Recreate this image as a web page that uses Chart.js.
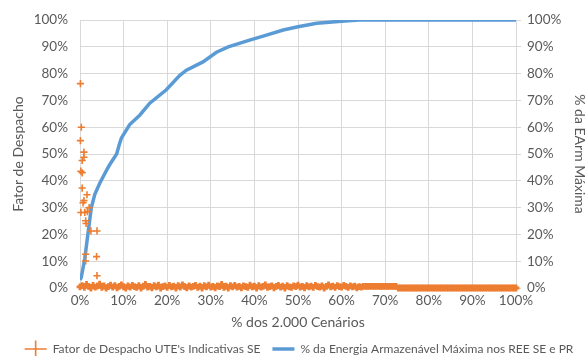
<!DOCTYPE html>
<html>
<head>
<meta charset="utf-8">
<script src="https://cdn.jsdelivr.net/npm/chart.js@4.4.1/dist/chart.umd.min.js"></script>
<style>
  html, body { margin: 0; padding: 0; background: #fff; }
  #wrap { width: 588px; height: 356px; }
</style>
</head>
<body>
<div id="wrap"><canvas id="chart" width="588" height="356"></canvas></div>
<script>
// % dos cenarios vs % da EArm maxima (curva azul)
const earmX = [0, 0.3, 1.1, 1.8, 2.2, 2.6, 3.4, 4.5, 6.1, 6.8, 8.4, 9.1, 9.5, 11.4, 13.7, 16, 19.8, 22.9, 24.4, 28.2, 31.3, 34, 38.9, 42, 46.6, 50, 54.3, 60, 64, 100];
const earmY = [3, 4, 11, 20, 25, 30, 35, 39, 44, 46, 50, 54, 56, 61, 64.5, 69, 74, 79.4, 81.3, 84.4, 88, 90, 92.5, 94, 96.3, 97.5, 98.8, 99.6, 100, 100];

// fator de despacho - pontos isolados no inicio
const outlierX = [0.1, 0.3, 0.1, 0.9, 0.9, 0.5, 0.2, 0.5, 0.5, 1.6, 0.9, 0.7, 2.1, 0.2, 1.1, 1.7, 1.3, 1.4, 2.5, 3.9, 1.3, 3.8, 1.3, 3.9];
const outlierY = [76.3, 60, 55, 50.7, 48.8, 47.6, 43.6, 43, 37.3, 34.8, 32.6, 31.8, 30, 28.2, 28.2, 28.5, 25.1, 24.1, 21.3, 21.3, 12.6, 11.7, 10.1, 4.6];

// fator de despacho - faixa junto de zero, um valor a cada 0,5% dos cenarios
const bandY = [
  0.4, 0.9, 0.2, 1.3, 0.6, 0, 1.0, 0.3, 0.7, 1.4,
  0.2, 0.8, 0, 0.5, 1.1, 0.3, 0.9, 0.1, 0.6, 1.2,
  0.4, 0, 0.8, 0.3, 1.0, 0.5, 0.2, 0.9, 0, 0.7,
  1.3, 0.3, 0.6, 0.1, 0.9, 0.4, 1.1, 0, 0.5, 0.8,
  0.2, 1.0, 0.4, 0.7, 0, 0.9, 0.3, 1.2, 0.5, 0.1,
  0.8, 0.3, 0.6, 1.0, 0.2, 0.7, 0, 0.9, 0.4, 1.1,
  0.3, 0.6, 0.1, 0.8, 0.5, 1.3, 0.2, 0.7, 0, 0.9,
  0.4, 1.0, 0.3, 0.6, 0.1, 0.8, 0.5, 0.2, 1.1, 0.4,
  0.7, 0, 0.9, 0.3, 0.6, 1.2, 0.2, 0.5, 0.8, 0.1,
  0.6, 1.0, 0.3, 0.7, 0, 0.9, 0.4, 0.2, 0.8, 0.5,
  1.1, 0.3, 0.6, 0.1, 0.9, 0.4, 0.7, 0.2, 1.0, 0.5,
  0.3, 0.8, 0, 0.6, 1.2, 0.4, 0.7, 0.2, 0.9, 0.5,
  0.3, 1.0, 0.6, 0.2, 0.8, 0.4, 0.7, 0.1, 0.5, 0.3,
  0.6, 0.6, 0.6, 0.6, 0.6, 0.6, 0.6, 0.6, 0.6, 0.6,
  0.6, 0.6, 0.6, 0.6, 0.6, 0.6, 0, 0, 0, 0,
  0, 0, 0, 0, 0, 0, 0, 0, 0, 0,
  0, 0, 0, 0, 0, 0, 0, 0, 0, 0,
  0, 0, 0, 0, 0, 0, 0, 0, 0, 0,
  0, 0, 0, 0, 0, 0, 0, 0, 0, 0,
  0, 0, 0, 0, 0, 0, 0, 0, 0, 0,
  0
];
const bandStep = 0.5;

const axisTicks = [0, 10, 20, 30, 40, 50, 60, 70, 80, 90, 100];

const fontFamily = "Lato, 'Open Sans', sans-serif";
const textGray = '#595959';
const gridGray = '#d9d9d9';

const scatterPoints = outlierX.map((x, i) => ({ x: x, y: outlierY[i] }))
  .concat(bandY.map((y, i) => ({ x: i * bandStep, y: y })));
const earmPoints = earmX.map((x, i) => ({ x: x, y: earmY[i] }));

const pct = v => v + '%';
const tickFont = { family: fontFamily, size: 13.5 };
const titleFont = { family: fontFamily, size: 14 };
// pontos da faixa junto de zero ficam mais grossos para formar a barra continua
const isBand = ctx => ctx.dataIndex >= outlierX.length;

new Chart(document.getElementById('chart'), {
  type: 'scatter',
  data: {
    datasets: [
      {
        label: "Fator de Despacho UTE's Indicativas SE",
        data: scatterPoints,
        yAxisID: 'y',
        clip: false,
        pointStyle: 'cross',
        pointRadius: ctx => isBand(ctx) ? 3.4 : 3.6,
        borderWidth: ctx => isBand(ctx) ? 2.8 : 1.6,
        borderColor: '#ED7D31',
        backgroundColor: '#ED7D31',
        showLine: false
      },
      {
        label: '% da Energia Armazenável Máxima nos REE SE e PR',
        data: earmPoints,
        yAxisID: 'y1',
        showLine: true,
        pointRadius: 0,
        pointStyle: 'line',
        borderWidth: 3.5,
        borderColor: '#5B9BD5',
        backgroundColor: '#5B9BD5',
        tension: 0
      }
    ]
  },
  options: {
    responsive: false,
    animation: false,
    layout: { padding: { top: 12, left: 10, right: 0, bottom: -9 } },
    plugins: {
      tooltip: { enabled: false },
      legend: {
        position: 'bottom',
        labels: {
          usePointStyle: true,
          pointStyleWidth: 22,
          padding: 12,
          color: textGray,
          font: { family: fontFamily, size: 12 }
        }
      }
    },
    scales: {
      x: {
        type: 'linear',
        min: 0,
        max: 100,
        afterBuildTicks: s => { s.ticks = axisTicks.map(v => ({ value: v })); },
        ticks: { callback: pct, color: textGray, font: tickFont, padding: 5, maxRotation: 0 },
        grid: { color: gridGray, drawTicks: false },
        border: { display: false },
        title: { display: true, text: '% dos 2.000 Cenários', color: textGray, font: titleFont, padding: { top: 5, bottom: 0 } },
        afterFit: s => { s.height = 43; }
      },
      y: {
        position: 'left',
        min: 0,
        max: 100,
        afterBuildTicks: s => { s.ticks = axisTicks.map(v => ({ value: v })); },
        ticks: { callback: pct, color: textGray, font: tickFont, padding: 12 },
        grid: { color: gridGray, drawTicks: false },
        border: { color: gridGray },
        title: { display: true, text: 'Fator de Despacho', color: textGray, font: titleFont, padding: 0 },
        afterFit: s => { s.width = 70; }
      },
      y1: {
        position: 'right',
        min: 0,
        max: 100,
        afterBuildTicks: s => { s.ticks = axisTicks.map(v => ({ value: v })); },
        ticks: { callback: pct, color: textGray, font: tickFont, padding: 6 },
        grid: { drawOnChartArea: false, color: gridGray, tickLength: 5 },
        border: { color: gridGray },
        title: { display: true, text: '% da EArm Máxima', color: textGray, font: titleFont, padding: 0 },
        afterFit: s => { s.width = 72; }
      }
    }
  }
});
</script>
</body>
</html>
